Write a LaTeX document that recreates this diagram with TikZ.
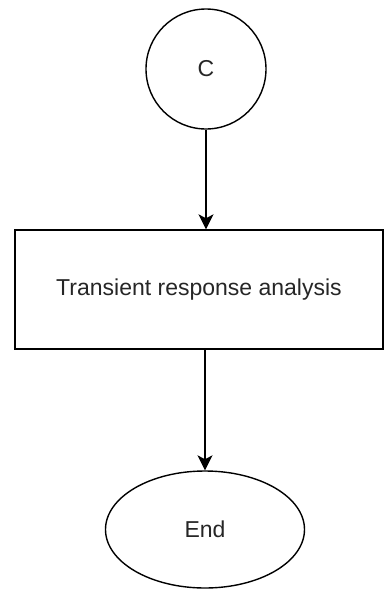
\documentclass[tikz,border=0pt]{standalone}
\usepackage{fontspec}
\setmainfont{Liberation Sans}
\usetikzlibrary{arrows.meta,shapes.geometric}
\begin{document}
\begin{tikzpicture}[x=1pt,y=-1pt,
  shp/.style={draw=black,line width=1.4pt,inner sep=0pt,font=\fontsize{23}{27}\selectfont,text=black!85},
  conn/.style={line width=1.4pt,-{Stealth[width=15pt,length=15pt,inset=4pt]}}]
\useasboundingbox (0,0) rectangle (384,590);
\node[shp,circle,minimum size=120pt] (c) at (206,69) {C};
\node[shp,rectangle,minimum width=368pt,minimum height=119pt] (t) at (199,289.5) {Transient response analysis};
\node[shp,ellipse,minimum width=199pt,minimum height=117pt] (e) at (205,529.5) {End};
\draw[conn] (c.south) -- (c.south |- t.north);
\draw[conn] (t.south -| e.north) -- (e.north);
\end{tikzpicture}
\end{document}
